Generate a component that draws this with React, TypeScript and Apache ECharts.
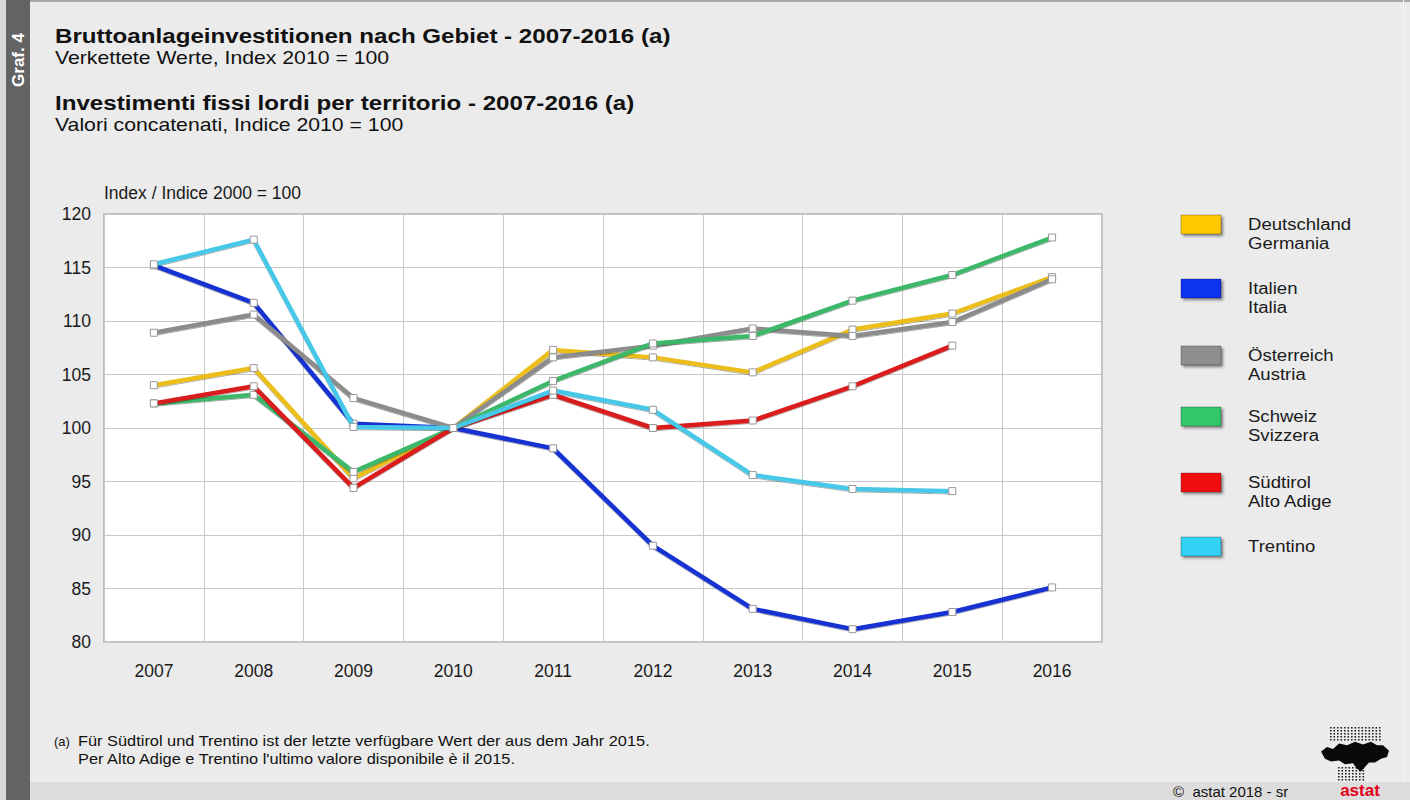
import React, { useEffect, useRef } from "react";
import * as echarts from "echarts";

const years = ["2007", "2008", "2009", "2010", "2011", "2012", "2013", "2014", "2015", "2016"];

const deutschland = [104.0, 105.6, 95.3, 100, 107.3, 106.6, 105.2, 109.2, 110.7, 114.1];
const italien = [115.2, 111.7, 100.4, 100, 98.1, 89.0, 83.1, 81.2, 82.8, 85.1];
const oesterreich = [108.9, 110.6, 102.8, 100, 106.6, 107.7, 109.3, 108.6, 109.9, 113.9];
const schweiz = [102.3, 103.1, 95.9, 100, 104.4, 107.9, 108.6, 111.9, 114.3, 117.8];
const suedtirol = [102.3, 103.9, 94.4, 100, 103.1, 100.0, 100.7, 103.9, 107.7, null];
const trentino = [115.3, 117.6, 100.1, 100, 103.5, 101.7, 95.6, 94.3, 94.1, null];

const seriesNamesDe = ["Deutschland", "Italien", "Österreich", "Schweiz", "Südtirol", "Trentino"];
const seriesNamesIt = ["Germania", "Italia", "Austria", "Svizzera", "Alto Adige", ""];
const lineColors = ["#EBBE1E", "#1432D2", "#8C8C8C", "#3CB86A", "#DA1A1A", "#46C8E8"];
const legendColors = ["#FFC800", "#0A32F0", "#8F8F8F", "#32C86A", "#F00A0A", "#32D2F5"];
const seriesData = [deutschland, italien, oesterreich, schweiz, suedtirol, trentino];

const yMin = 80;
const yMax = 120;
const yInterval = 5;

const titleDe = "Bruttoanlageinvestitionen nach Gebiet - 2007-2016 (a)";
const subDe = "Verkettete Werte, Index 2010 = 100";
const titleIt = "Investimenti fissi lordi per territorio - 2007-2016 (a)";
const subIt = "Valori concatenati, Indice 2010 = 100";
const yAxisName = "Index / Indice 2000 = 100";
const note1 = "Für Südtirol und Trentino ist der letzte verfügbare Wert der aus dem Jahr 2015.";
const note2 = "Per Alto Adige e Trentino l'ultimo valore disponibile è il 2015.";
const sourceText = "©  astat 2018 - sr";

const FONT = "'Liberation Sans', Arial, Helvetica, sans-serif";
const SX = 1.16;

export default function App() {
  const ref = useRef<HTMLDivElement>(null);

  useEffect(() => {
    if (!ref.current) return;
    const chart = echarts.init(ref.current, null, { renderer: "svg" });

    const logoPath =
      "M2 14 L8 9 L14 11 L20 5 L28 7 L36 3 L44 6 L52 3 L58 7 L64 7 L70 13 L68 20 L62 22 L56 26 L50 26 L46 31 L42 36 L38 33 L34 27 L26 28 L20 24 L12 25 L6 22 Z";
    echarts.graphic.registerShape("astatLogo", echarts.graphic.extendPath(logoPath, {}));

    const legendItems: any[] = [];
    const legendTops = [215, 279, 346, 407, 473, 537];
    seriesNamesDe.forEach((n, i) => {
      const top = legendTops[i];
      legendItems.push({
        type: "rect",
        shape: { x: 1181, y: top, width: 40, height: 19 },
        style: {
          fill: legendColors[i],
          stroke: "rgba(0,0,0,0.25)",
          lineWidth: 1,
          shadowBlur: 3,
          shadowOffsetX: 2,
          shadowOffsetY: 2,
          shadowColor: "rgba(0,0,0,0.45)",
        },
      });
      legendItems.push({
        type: "text",
        x: 1248,
        y: top,
        scaleX: SX,
        style: {
          text: seriesNamesIt[i] ? n + "\n" + seriesNamesIt[i] : n,
          font: `16px ${FONT}`,
          fill: "#1a1a1a",
          lineHeight: 19,
          verticalAlign: "top",
        },
      });
    });

    const dots: any[] = [];
    for (let r = 0; r < 5; r++) {
      for (let c = 0; c < 15; c++) {
        dots.push({
          type: "rect",
          shape: { x: 1330 + c * 3.5, y: 727 + r * 3, width: 1.6, height: 1.6 },
          style: { fill: "#222" },
        });
      }
    }
    for (let r = 0; r < 5; r++) {
      for (let c = 0; c < 8; c++) {
        dots.push({
          type: "rect",
          shape: { x: 1338 + c * 3.5, y: 767 + r * 3, width: 1.6, height: 1.6 },
          style: { fill: "#222" },
        });
      }
    }

    const txt = (x: number, y: number, text: string, font: string, sx = SX) => ({
      type: "text",
      x,
      y,
      scaleX: sx,
      style: { text, font, fill: "#111", verticalAlign: "middle" },
    });

    const option: any = {
      animation: false,
      backgroundColor: "#EBEBEB",
      textStyle: { fontFamily: FONT },
      grid: {
        left: 104,
        right: 308,
        top: 214,
        bottom: 158,
        show: true,
        backgroundColor: "#FFFFFF",
        borderColor: "#BDBDBD",
        borderWidth: 2,
      },
      xAxis: {
        type: "category",
        data: years,
        boundaryGap: true,
        axisLine: { show: false },
        axisTick: { show: false },
        axisLabel: { fontSize: 17.5, color: "#1a1a1a", margin: 20, fontFamily: FONT },
        splitLine: { show: true, lineStyle: { color: "#C8C8C8", width: 1 } },
      },
      yAxis: {
        type: "value",
        min: yMin,
        max: yMax,
        interval: yInterval,
        name: yAxisName,
        nameLocation: "end",
        nameGap: 21,
        nameTextStyle: {
          fontSize: 17.5,
          color: "#1a1a1a",
          align: "left",
          verticalAlign: "middle",
          fontFamily: FONT,
        },
        axisLine: { show: false },
        axisTick: { show: false },
        axisLabel: { fontSize: 17.5, color: "#1a1a1a", margin: 13, fontFamily: FONT },
        splitLine: { show: true, lineStyle: { color: "#C8C8C8", width: 1 } },
      },
      series: seriesData.map((d, i) => ({
        name: seriesNamesDe[i],
        type: "line",
        data: d,
        symbol: "rect",
        symbolSize: 7,
        showAllSymbol: true,
        connectNulls: false,
        lineStyle: {
          color: lineColors[i],
          width: 4.5,
          shadowColor: "rgba(0,0,0,0.35)",
          shadowBlur: 1,
          shadowOffsetY: 1,
        },
        itemStyle: { color: "#FFFFFF", borderColor: "#999999", borderWidth: 1 },
        z: 2 + i,
      })),
      graphic: [
        { type: "rect", shape: { x: 0, y: 0, width: 6, height: 800 }, style: { fill: "#DADADA" }, z: -1 },
        { type: "rect", shape: { x: 6, y: 0, width: 24, height: 800 }, style: { fill: "#636363" }, z: -1 },
        { type: "rect", shape: { x: 30, y: 0, width: 1380, height: 2 }, style: { fill: "#A8A8A8" }, z: -1 },
        { type: "rect", shape: { x: 30, y: 782, width: 1380, height: 18 }, style: { fill: "#DDDDDD" }, z: -1 },
        { type: "rect", shape: { x: 1403, y: 0, width: 1, height: 782 }, style: { fill: "#F6F6F6" }, z: -1 },
        {
          type: "text",
          x: 18,
          y: 60,
          rotation: Math.PI / 2,
          style: {
            text: "Graf. 4",
            font: `bold 17px ${FONT}`,
            fill: "#FFFFFF",
            align: "center",
            verticalAlign: "middle",
          },
        },
        txt(55, 36, titleDe, `bold 21px ${FONT}`, 1.15),
        txt(55, 58, subDe, `18px ${FONT}`, 1.18),
        txt(55, 103, titleIt, `bold 21px ${FONT}`, 1.15),
        txt(55, 125, subIt, `18px ${FONT}`, 1.18),
        ...legendItems,
        txt(54, 741, "(a)", `13px ${FONT}`, 1.0),
        txt(78, 741, note1, `14px ${FONT}`, 1.17),
        txt(78, 759, note2, `14px ${FONT}`, 1.17),
        txt(1173, 791, sourceText, `15px ${FONT}`, 1.0),
        {
          type: "text",
          x: 1360,
          y: 790,
          style: {
            text: "astat",
            font: `bold 17px ${FONT}`,
            fill: "#E3001B",
            align: "center",
            verticalAlign: "middle",
          },
        },
        ...dots,
        {
          type: "astatLogo",
          x: 1319,
          y: 739,
          scaleX: 1,
          scaleY: 0.9,
          style: { fill: "#0A0A0A" },
        },
      ],
    };

    chart.setOption(option);
    return () => {
      chart.dispose();
    };
  }, []);

  return (
    <div
      ref={ref}
      style={{ position: "fixed", left: 0, top: 0, width: 1410, height: 800 }}
    />
  );
}
